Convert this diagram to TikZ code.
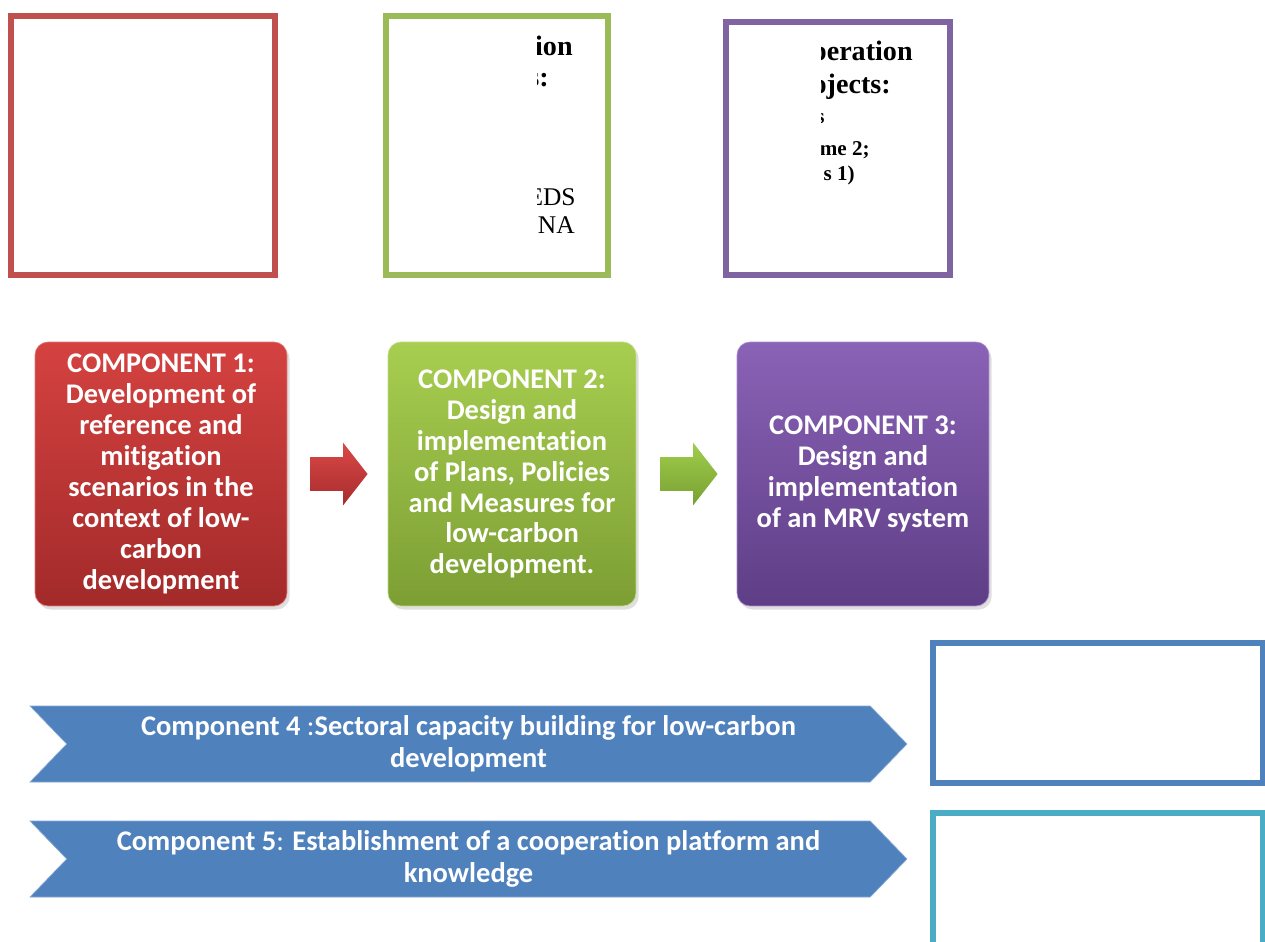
\documentclass[tikz,border=0pt]{standalone}
\usepackage{fontspec}
\setmainfont{Liberation Serif}
\newfontfamily\calibri[Ligatures={NoCommon}]{Carlito}
\usetikzlibrary{shapes.arrows}
\usetikzlibrary{shapes.symbols}
\usetikzlibrary{shadows}
\usetikzlibrary{calc}

\definecolor{redline}{HTML}{C0504D}
\definecolor{greenline}{HTML}{9BBB59}
\definecolor{purpleline}{HTML}{8064A2}
\definecolor{blueline}{HTML}{4F81BD}
\definecolor{cyanline}{HTML}{4BACC6}

\begin{document}
\begin{tikzpicture}[x=0.02cm, y=-0.02cm,
    outbox/.style={line width=3.6pt},
    compbox/.style={rounded corners=0.26cm, minimum width=5.04cm, minimum height=5.28cm,
      inner sep=0pt, align=center, text=white,
      font=\calibri\bfseries\fontsize{16.2}{17.6}\selectfont,
      drop shadow={opacity=0.25, shadow xshift=1.5pt, shadow yshift=-2pt}},
    flowarrow/.style={single arrow, minimum height=1.14cm, minimum width=1.24cm,
      single arrow head extend=0.29cm, single arrow tip angle=104,
      inner xsep=0pt, inner ysep=0.33cm},
    bannerbox/.style={signal, signal from=west, signal to=east, signal pointer angle=92,
      fill=blueline, draw=blueline!70!white, minimum width=17.54cm, minimum height=1.52cm,
      inner sep=0pt, align=center, text=white,
      font=\calibri\bfseries\fontsize{16.2}{18}\selectfont},
    boldtext/.style={anchor=base east, inner sep=0pt, font=\bfseries\fontsize{16}{18}\selectfont},
    smalltext/.style={anchor=base east, inner sep=0pt, font=\bfseries\fontsize{12}{14}\selectfont},
    plaintext/.style={anchor=base east, inner sep=0pt, font=\fontsize{14.5}{17}\selectfont}
  ]
        \useasboundingbox [fill=white] (0,0) rectangle (1265,941);
        %
        \draw [outbox, draw=redline] (11,16) rectangle (275,275);
        \draw [outbox, draw=greenline] (386,16) rectangle (608,275);
        \draw [outbox, draw=purpleline] (726,22) rectangle (950,275);
        %
        \begin{scope}
          \clip (537,20) rectangle (604,271);
          \node [boldtext] (g1) at (573,55) {ion};
          \node [boldtext] (g2) at (549,86) {s:};
          \node [plaintext] (g3) at (576,205) {EDS};
          \node [plaintext] (g4) at (575,233) {NA};
        \end{scope}
        %
        \begin{scope}
          \clip (821,26) rectangle (946,271);
          \node [boldtext] (p1) at (913,60) {peration};
          \node [boldtext] (p2) at (891,93) {ojects:};
          \node [smalltext] (p3) at (825,123) {s};
          \node [smalltext] (p4) at (870,155) {me 2;};
          \node [smalltext] (p5) at (855,180) {s 1)};
        \end{scope}
        %
        \node [compbox,
          top color={rgb,255:red,212;green,66;blue,64}, bottom color={rgb,255:red,163;green,42;blue,42},
          draw={rgb,255:red,225;green,120;blue,118}] (c1) at (161,474)
          {COMPONENT 1:\\Development of\\reference and\\mitigation\\scenarios in the\\context of low-\\carbon\\development};
        \node [compbox, minimum width=4.96cm,
          top color={rgb,255:red,168;green,206;blue,80}, bottom color={rgb,255:red,124;green,158;blue,52},
          draw={rgb,255:red,190;green,220;blue,130}] (c2) at (512,474)
          {COMPONENT 2:\\Design and\\implementation\\of Plans, Policies\\and Measures for\\low-carbon\\development.};
        \node [compbox,
          top color={rgb,255:red,138;green,98;blue,182}, bottom color={rgb,255:red,94;green,62;blue,134},
          draw={rgb,255:red,170;green,140;blue,205}] (c3) at (863,474)
          {COMPONENT 3:\\Design and\\implementation\\of an MRV system};
        %
        \node [flowarrow, top color={rgb,255:red,218;green,72;blue,72}, bottom color={rgb,255:red,168;green,44;blue,44}]
          (a1) at ($(c1.east)!0.5!(c2.west)+(-5,0)$) {};
        \node [flowarrow, top color={rgb,255:red,160;green,205;blue,76}, bottom color={rgb,255:red,120;green,160;blue,50}]
          (a2) at ($(c2.east)!0.5!(c3.west)+(-4,0)$) {};
        %
        \node [bannerbox] (b4) at (468.5,744)
          {Component 4 \textmd{:}Sectoral capacity building for low-carbon\\development};
        \node [bannerbox] (b5) at (468.5,859)
          {Component 5\textmd{:} Establishment of a cooperation platform and\\knowledge};
        %
        \draw [outbox, draw=blueline] (933,643) rectangle (1263,783);
        \draw [outbox, draw=cyanline] (933,813) rectangle (1263,945);
      \end{tikzpicture}
\end{document}
